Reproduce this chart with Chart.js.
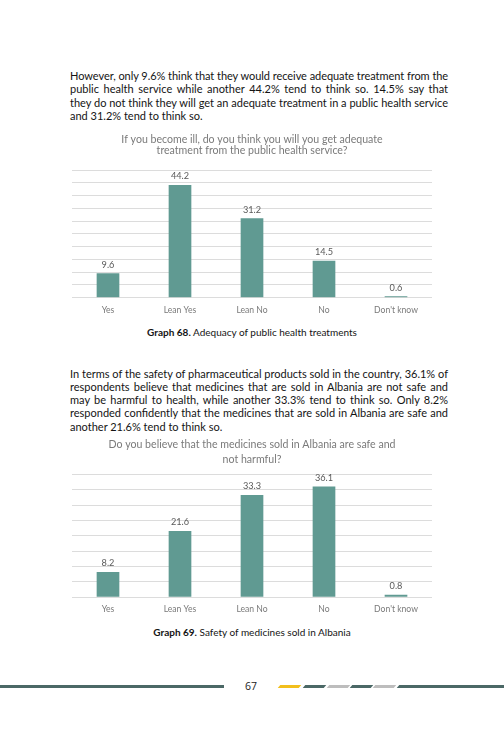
<!DOCTYPE html>
<html>
<head>
<meta charset="utf-8">
<script src="https://cdn.jsdelivr.net/npm/chart.js@4.4.1/dist/chart.umd.min.js"></script>
<style>
  html, body { margin: 0; padding: 0; background: #fff; }
  body { width: 504px; height: 729px; position: relative; overflow: hidden; font-family: Lato, "Open Sans", sans-serif; }
  .para { position: absolute; left: 70px; width: 378px; font-size: 11px; line-height: 13.3px; color: #141414; }
  .para div { white-space: nowrap; text-align: justify; text-align-last: justify; }
  .para div.last { text-align-last: left; }
  .cap { position: absolute; left: 0; width: 504px; text-align: center; font-size: 10px; line-height: 12px; color: #141414; }
  .cap b { font-weight: 700; }
  canvas { position: absolute; }
  .seg { position: absolute; height: 3px; transform: skewX(-40deg); }
</style>
</head>
<body>

<div class="para" style="top:69px">
  <div>However, only 9.6% think that they would receive adequate treatment from the</div>
  <div>public health service while another 44.2% tend to think so. 14.5% say that</div>
  <div>they do not think they will get an adequate treatment in a public health service</div>
  <div class="last">and 31.2% tend to think so.</div>
</div>

<canvas id="c1" width="380" height="192" style="left:62px;top:130px;width:380px;height:192px"></canvas>
<div class="cap" style="top:326px"><b>Graph 68.</b> Adequacy of public health treatments</div>

<div class="para" style="top:366.5px">
  <div>In terms of the safety of pharmaceutical products sold in the country, 36.1% of</div>
  <div>respondents believe that medicines that are sold in Albania are not safe and</div>
  <div>may be harmful to health, while another 33.3% tend to think so. Only 8.2%</div>
  <div>responded confidently that the medicines that are sold in Albania are safe and</div>
  <div class="last">another 21.6% tend to think so.</div>
</div>

<canvas id="c2" width="380" height="187" style="left:62px;top:434px;width:380px;height:187px"></canvas>
<div class="cap" style="top:625.5px"><b>Graph 69.</b> Safety of medicines sold in Albania</div>

<!-- footer -->
<div style="position:absolute;left:0;top:684.5px;width:224px;height:3px;background:#4b6866"></div>
<div style="position:absolute;left:245px;top:679px;font-size:10.5px;color:#222;font-family:'Open Sans',sans-serif">67</div>
<div class="seg" style="left:279px;top:684.5px;width:21px;background:#f2bf1c"></div>
<div class="seg" style="left:304px;top:684.5px;width:21px;background:#4b6866"></div>
<div class="seg" style="left:328px;top:684.5px;width:21px;background:#bdbdbd"></div>
<div class="seg" style="left:351px;top:684.5px;width:21px;background:#4b6866"></div>
<div class="seg" style="left:374px;top:684.5px;width:21px;background:#bdbdbd"></div>
<div class="seg" style="left:398px;top:684.5px;width:120px;background:#4b6866"></div>

<script>
const categories = ["Yes", "Lean Yes", "Lean No", "No", "Don't know"];
const treatmentValues = [9.6, 44.2, 31.2, 14.5, 0.6];
const medicineValues = [8.2, 21.6, 33.3, 36.1, 0.8];
const title1 = ["If you become ill, do you think you will you get adequate", "treatment from the public health service?"];
const title2 = ["Do you believe that the medicines sold in Albania are safe and", "not harmful?"];

const BAR = "#609a92";
const FONT = "Lato, 'Open Sans', sans-serif";

// keep justified lines inside the column
document.querySelectorAll('.para div').forEach(d => {
  let ls = 0;
  while (d.scrollWidth > d.clientWidth + 0.5 && ls > -0.6) {
    ls -= 0.05;
    d.style.letterSpacing = ls + 'px';
  }
});

const valueLabels = {
  id: "valueLabels",
  afterDatasetsDraw(chart) {
    const ctx = chart.ctx;
    const meta = chart.getDatasetMeta(0);
    const data = chart.data.datasets[0].data;
    ctx.save();
    ctx.font = "9.2px " + FONT;
    ctx.fillStyle = "#595959";
    ctx.textAlign = "center";
    ctx.textBaseline = "bottom";
    meta.data.forEach((bar, i) => {
      ctx.fillText(data[i].toFixed(1), bar.x, bar.y - 4);
    });
    ctx.restore();
  }
};

function makeChart(id, values, title, max, titleLH, padTop, padBottom, tickPad) {
  return new Chart(document.getElementById(id), {
    type: "bar",
    data: {
      labels: categories,
      datasets: [{
        data: values,
        backgroundColor: BAR,
        borderWidth: 0,
        barPercentage: 0.63,
        categoryPercentage: 0.5
      }]
    },
    options: {
      responsive: false,
      animation: false,
      layout: { padding: { left: 10, right: 10, top: 0, bottom: 0 } },
      plugins: {
        legend: { display: false },
        tooltip: { enabled: false },
        title: {
          display: true,
          text: title,
          color: "#7a7a7a",
          font: { family: FONT, size: 10.6, weight: "normal", lineHeight: titleLH },
          padding: { top: padTop, bottom: padBottom }
        }
      },
      scales: {
        x: {
          grid: { display: false, drawTicks: false },
          border: { display: false },
          ticks: { color: "#7a7a7a", font: { family: FONT, size: 8.6 }, padding: tickPad, maxRotation: 0 }
        },
        y: {
          min: 0, max: max,
          grid: { color: "#dcdcdc", lineWidth: 1, drawTicks: false },
          border: { display: false },
          ticks: { display: false, stepSize: 5 }
        }
      }
    },
    plugins: [valueLabels]
  });
}

makeChart("c1", treatmentValues, title1, 50, 1.02, 4.65, 13.95, 7);
makeChart("c2", medicineValues, title2, 40, 1.33, 4, 8.3, 6.75);
</script>
</body>
</html>
